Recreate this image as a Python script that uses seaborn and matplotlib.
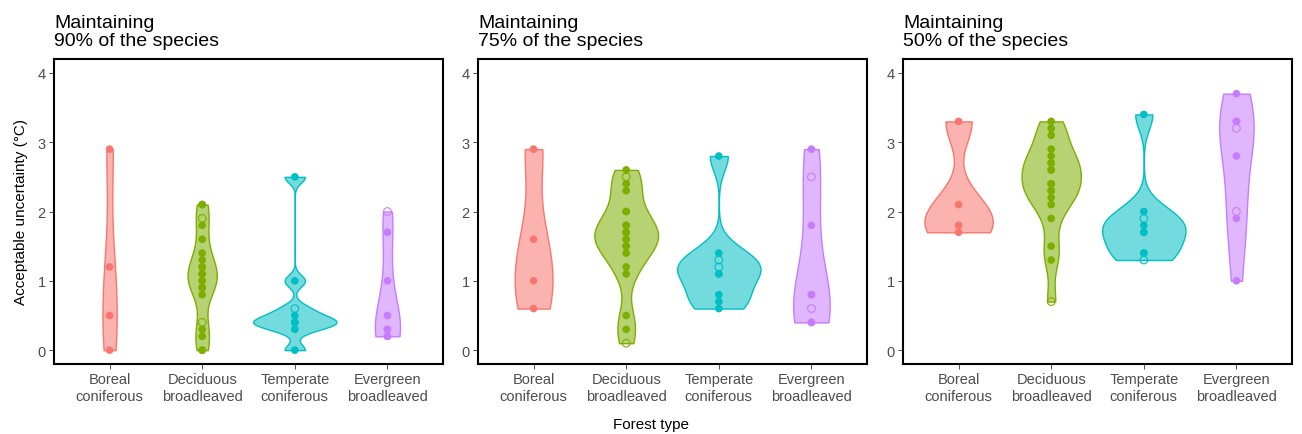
import numpy as np
import pandas as pd
import matplotlib
matplotlib.use("Agg")
import matplotlib.pyplot as plt
import seaborn as sns

# Forest types (x categories) and their colours
forest_types = ["Boreal\nconiferous", "Deciduous\nbroadleaved",
                "Temperate\nconiferous", "Evergreen\nbroadleaved"]
palette = ["#F8766D", "#7CAE00", "#00BFC4", "#C77CFF"]

panel_titles = ["Maintaining\n90% of the species",
                "Maintaining\n75% of the species",
                "Maintaining\n50% of the species"]

# Acceptable uncertainty (°C) per forest type, filled points
boreal_90 = [0.0, 0.5, 1.2, 2.9]
deciduous_90 = [0.0, 0.0, 0.2, 0.3, 0.8, 0.9, 0.9, 1.0, 1.0, 1.1, 1.1, 1.2, 1.2, 1.3, 1.4,
                1.6, 1.8, 2.1, 2.1]
temperate_90 = [0.0, 0.3, 0.4, 0.4, 0.4, 0.5, 1.0, 2.5]
evergreen_90 = [0.2, 0.2, 0.3, 0.3, 0.5, 1.0, 1.7]

boreal_75 = [0.6, 1.0, 1.6, 2.9]
deciduous_75 = [0.3, 0.5, 1.1, 1.2, 1.4, 1.5, 1.5, 1.6, 1.6, 1.7, 1.7, 1.8, 1.8, 2.0, 2.0,
                2.3, 2.4, 2.6]
temperate_75 = [0.6, 0.7, 0.8, 1.1, 1.1, 1.4, 2.8]
evergreen_75 = [0.4, 0.4, 0.8, 0.8, 1.8, 2.9]

boreal_50 = [1.7, 1.8, 2.1, 3.3]
deciduous_50 = [1.3, 1.5, 1.9, 2.1, 2.2, 2.3, 2.3, 2.4, 2.4, 2.6, 2.6, 2.7, 2.7, 2.8, 2.9,
                3.1, 3.2, 3.3]
temperate_50 = [1.4, 1.4, 1.7, 1.7, 1.8, 2.0, 3.4]
evergreen_50 = [1.0, 1.9, 2.8, 3.3, 3.3, 3.7]

# Open points (hollow markers)
boreal_90_open = []
deciduous_90_open = [0.4, 1.9]
temperate_90_open = [0.6]
evergreen_90_open = [2.0]

boreal_75_open = []
deciduous_75_open = [0.1, 2.5]
temperate_75_open = [1.2, 1.3]
evergreen_75_open = [0.6, 2.5]

boreal_50_open = []
deciduous_50_open = [0.7]
temperate_50_open = [1.3, 1.9]
evergreen_50_open = [2.0, 3.2]

filled = [
    [boreal_90, deciduous_90, temperate_90, evergreen_90],
    [boreal_75, deciduous_75, temperate_75, evergreen_75],
    [boreal_50, deciduous_50, temperate_50, evergreen_50],
]
hollow = [
    [boreal_90_open, deciduous_90_open, temperate_90_open, evergreen_90_open],
    [boreal_75_open, deciduous_75_open, temperate_75_open, evergreen_75_open],
    [boreal_50_open, deciduous_50_open, temperate_50_open, evergreen_50_open],
]


def long_frame(groups):
    rows = []
    for cat, vals in zip(forest_types, groups):
        rows += [(cat, v) for v in vals]
    return pd.DataFrame(rows, columns=["forest", "value"])


def nrd0(kde):
    """Silverman's rule of thumb (R's bw.nrd0), expressed as a scipy factor."""
    x = np.asarray(kde.dataset).ravel()
    sd = x.std(ddof=1)
    q75, q25 = np.percentile(x, [75, 25])
    lo = min(sd, (q75 - q25) / 1.34)
    if lo <= 0:
        lo = sd if sd > 0 else 1.0
    bw = 0.9 * lo * len(x) ** (-0.2)
    return bw / sd if sd > 0 else 1.0


sns.set_theme(style="ticks")
plt.rcParams["font.family"] = ["Liberation Sans", "DejaVu Sans"]

fig = plt.figure(figsize=(13.02, 4.35), dpi=100)
lefts_px = [54, 478, 903]
W, H = 1302, 435
axes = [fig.add_axes([l / W, 1 - 365 / H, 389 / W, 305 / H]) for l in lefts_px]

pal = dict(zip(forest_types, palette))

for ax, title, fgroups, hgroups in zip(axes, panel_titles, filled, hollow):
    df_f = long_frame(fgroups)
    df_h = long_frame(hgroups)
    df_all = pd.concat([df_f, df_h], ignore_index=True)

    # Trimmed violins, equal area, one colour per forest type
    sns.violinplot(data=df_all, x="forest", y="value", hue="forest", order=forest_types,
                   hue_order=forest_types, palette=pal, legend=False, cut=0, inner=None,
                   density_norm="area", common_norm=True, width=0.9, saturation=1,
                   bw_method=nrd0, gridsize=300, ax=ax)
    for coll, col in zip(list(ax.collections), palette):
        rgb = matplotlib.colors.to_rgb(col)
        coll.set_facecolor((*rgb, 0.55))
        coll.set_edgecolor(rgb)
        coll.set_linewidth(1.0)

    # Filled points
    sns.stripplot(data=df_f, x="forest", y="value", hue="forest", order=forest_types,
                  hue_order=forest_types, palette=pal, legend=False, jitter=False,
                  size=5.5, linewidth=0, ax=ax)
    n_mid = len(ax.collections)
    # Hollow points
    sns.stripplot(data=df_h, x="forest", y="value", hue="forest", order=forest_types,
                  hue_order=forest_types, palette=pal, legend=False, jitter=False,
                  size=5.5, linewidth=0, ax=ax)
    for coll in ax.collections[n_mid:]:
        fc = coll.get_facecolors()
        if len(fc):
            coll.set_edgecolors(fc)
            coll.set_facecolors("none")
            coll.set_linewidth(0.8)

    ax.set_xlim(-0.6, 3.6)
    ax.set_ylim(-0.2, 4.2)
    ax.set_yticks([0, 1, 2, 3, 4])
    ax.set_xlabel("")
    ax.set_ylabel("")
    ax.set_title(title, loc="left", fontsize=14, pad=10, color="black",
                 linespacing=1.1)
    for side in ["top", "right", "bottom", "left"]:
        ax.spines[side].set_visible(True)
        ax.spines[side].set_color("black")
        ax.spines[side].set_linewidth(1.5)
    ax.tick_params(axis="both", length=3.5, width=0.6, color="#333333",
                   labelcolor="#4D4D4D", labelsize=10.5, pad=2.5)
    ax.grid(False)

axes[0].set_ylabel("Acceptable uncertainty (°C)", fontsize=11, color="black", labelpad=7)
fig.text(651 / W, 1 - 425 / H, "Forest type", ha="center", va="center",
         fontsize=11, color="black")

fig.savefig("out.png", dpi=100, facecolor="white")
